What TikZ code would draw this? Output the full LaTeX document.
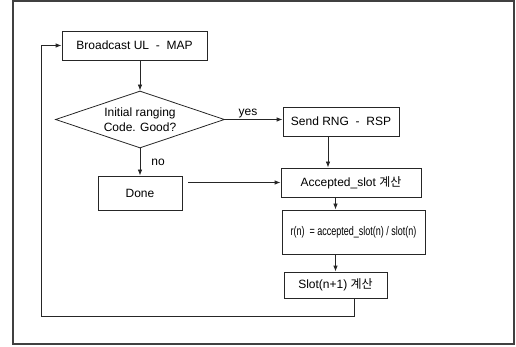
\documentclass[tikz,border=0pt]{standalone}
\usepackage{fontspec}
\setmainfont{Liberation Sans}
\newfontfamily\narrowfont[FakeStretch=0.72]{Liberation Sans}
\newfontfamily\kr{Noto Sans CJK KR}
\usetikzlibrary{shapes.geometric,arrows.meta,calc}
\begin{document}
\begin{tikzpicture}[x=1pt,y=-1pt,
  ln/.style={line width=0.8pt,draw=black!85},
  arr/.style={ln,-{Latex[length=6pt,width=4.5pt]}},
  box/.style={ln,rectangle,inner sep=0pt,font=\fontsize{12}{14}\selectfont},
  lbl/.style={font=\fontsize{12}{14}\selectfont,inner sep=1pt}]
\useasboundingbox (0,0) rectangle (516,347);
\draw[line width=1.2pt,draw=black!75] (13,1) rectangle (514,344);
\node[box,minimum width=145,minimum height=29] (bcast) at (134.5,45.5) {Broadcast UL\ \ -\ \ MAP};
\node[box,diamond,minimum width=169,minimum height=57,aspect=2.96,align=center,font=\fontsize{12}{15}\selectfont] (dia) at (140,119.5) {Initial ranging\\Code. Good?};
\node[box,minimum width=116,minimum height=29] (send) at (341,121.5) {Send RNG\ \ -\ \ RSP};
\node[box,minimum width=84,minimum height=34] (done) at (140,193) {Done};
\node[box,minimum width=140,minimum height=29] (acc) at (351,182.5) {Accepted\_slot {\kr 계산}};
\node[box,minimum width=143,minimum height=44,font=\narrowfont\fontsize{12.5}{14}\selectfont] (r) at (353.5,232) {r(n)\ \ = accepted\_slot(n) / slot(n)};
\node[box,minimum width=103,minimum height=26] (slot) at (335.5,285) {Slot(n+1) {\kr 계산}};
\coordinate (fb1) at (354,316);
\coordinate (fb2) at (41,316);
\coordinate (s1) at (328,136);
\draw[arr] (bcast.south -| dia.north) -- (dia.north);
\draw[arr] (dia.east) -- node[lbl,above,pos=0.4]{yes} (send.west |- dia.east);
\draw[arr] (dia.south) -- node[lbl,right=10pt,pos=0.5]{no} (done.north);
\draw[arr] ($(done.east |- acc.west)+(6,0)$) -- (acc.west);
\draw[arr] (s1 |- send.south) -- (s1 |- acc.north);
\draw[arr] (acc.south -| slot.north) -- (r.north -| slot.north);
\draw[arr] (r.south -| slot.north) -- (slot.north);
\draw[arr] (slot.south -| fb1) -- (fb1) -- (fb2) |- (bcast.west);
\end{tikzpicture}
\end{document}
